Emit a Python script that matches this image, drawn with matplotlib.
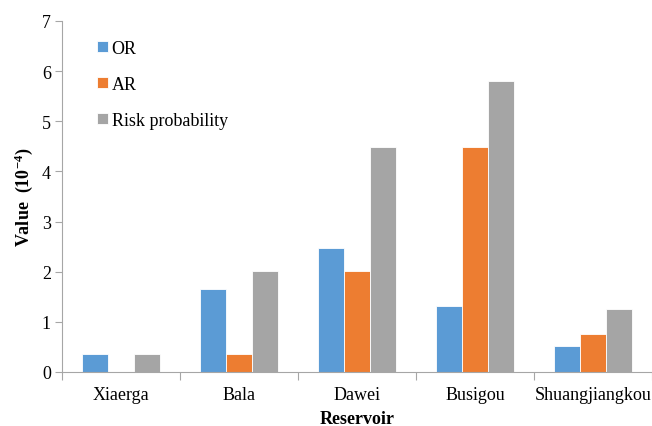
import matplotlib
matplotlib.use("Agg")
import matplotlib.pyplot as plt
import numpy as np

# data (units of 1e-4)
reservoirs = ["Xiaerga", "Bala", "Dawei", "Busigou", "Shuangjiangkou"]
or_vals = [0.36, 1.65, 2.47, 1.32, 0.51]
ar_vals = [0.0, 0.36, 2.02, 4.48, 0.75]
risk_vals = [0.36, 2.02, 4.48, 5.80, 1.26]
series_names = ["OR", "AR", "Risk probability"]
colors = ["#5B9BD5", "#ED7D31", "#A5A5A5"]

plt.rcParams['font.family'] = ['Liberation Serif', 'DejaVu Serif']
plt.rcParams['mathtext.fontset'] = 'custom'
plt.rcParams['mathtext.rm'] = 'Liberation Serif'
plt.rcParams['mathtext.bf'] = 'Liberation Serif:bold'
plt.rcParams['mathtext.default'] = 'regular'

fig = plt.figure(figsize=(6.52, 4.27), dpi=100)
ax = fig.add_axes([0.095, 0.1265, 0.905, 0.822])

x = np.arange(len(reservoirs))
w = 0.22
for i, (vals, name, c) in enumerate(zip([or_vals, ar_vals, risk_vals], series_names, colors)):
    ax.bar(x + (i - 1) * w, vals, width=w, color=c, label=name,
           edgecolor="white", linewidth=0.6)

ax.set_xlim(-0.5, 4.5)
ax.set_ylim(0, 7)
ax.set_yticks(range(8))
ax.set_xticks(x)
ax.set_xticklabels(reservoirs)
ax.tick_params(axis="x", length=0, labelsize=13, pad=10)
ax.set_xticks(np.arange(-0.5, 4.6, 1), minor=True)
ax.tick_params(axis="x", which="minor", length=6, color="#A6A6A6", width=0.8)
ax.tick_params(axis="y", length=5, color="#A6A6A6", width=0.8, labelsize=13, pad=3)

for s in ["top", "right"]:
    ax.spines[s].set_visible(False)
for s in ["left", "bottom"]:
    ax.spines[s].set_color("#A6A6A6")
    ax.spines[s].set_linewidth(0.8)

ax.set_ylabel("Value  (10$^{-4}$)", fontsize=13, fontweight="bold", labelpad=5)
ax.set_xlabel("Reservoir", fontsize=13, fontweight="bold", labelpad=5)

ax.legend(loc="upper left", bbox_to_anchor=(0.032, 0.993), frameon=False,
          fontsize=13, handlelength=0.6, handleheight=0.6, handletextpad=0.2,
          labelspacing=1.05)

fig.savefig("out.png", dpi=100)
